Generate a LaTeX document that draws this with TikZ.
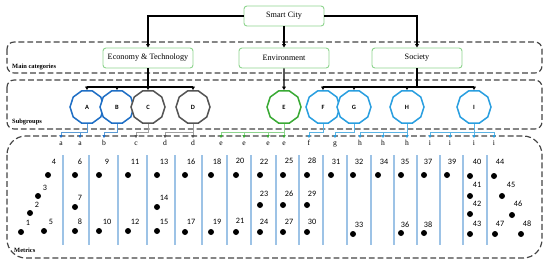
\documentclass[tikz,border=0pt]{standalone}
\usepackage{fontspec}
\setmainfont{Liberation Serif}
\newfontfamily\calfont{Carlito}
\usetikzlibrary{arrows.meta,shapes.geometric}
\definecolor{cblue}{HTML}{1F6FC5}
\definecolor{lblue}{HTML}{2A9FE0}
\definecolor{cgray}{HTML}{555555}
\definecolor{lgray}{HTML}{A0A0A0}
\definecolor{cgreen}{HTML}{3AAA35}
\definecolor{boxgreen}{HTML}{8ED48E}
\definecolor{vline}{HTML}{9DC3E6}
\definecolor{lnblue}{HTML}{5B9BD5}
\definecolor{lnlblue}{HTML}{5BB4E5}
\definecolor{dashc}{HTML}{444444}
\tikzset{
  catbox/.style={draw=boxgreen, line width=0.8pt, rounded corners=2.5pt, minimum width=2.7cm, minimum height=0.6cm, inner sep=1pt, font=\fontsize{7}{8}\selectfont, fill=white},
  grpbox/.style={draw=dashc, line width=1pt, dash pattern=on 5pt off 2.5pt},
  grplabel/.style={font=\bfseries\fontsize{5.5}{6}\selectfont, anchor=west, inner sep=0},
  sg/.style={regular polygon, regular polygon sides=10, minimum size=1.02cm, inner sep=0, line width=1.3pt, fill=white, font=\calfont\bfseries\fontsize{5.5}{6}\selectfont},
  lt/.style={font=\fontsize{6.5}{7}\selectfont, inner sep=0.3pt, anchor=north, text height=1.3ex, text depth=0pt},
  num/.style={font=\calfont\fontsize{7}{8}\selectfont, inner sep=0},
  mdot/.style={circle, fill=black, inner sep=0, minimum size=0.18cm},
  topar/.style={draw=black, line width=1.1pt, -{Triangle[length=3pt,width=3.2pt]}},
  subar/.style args={#1/#2}{line width=0.6pt, draw=#1, -{Triangle[length=2.5pt,width=2.6pt,color=#2]}},
}
\begin{document}
\begin{tikzpicture}[x=0.03cm,y=-0.03cm]
\useasboundingbox (0,0) rectangle (550,266);
% group boxes
\draw[grpbox, rounded corners=6pt] (7,42) rectangle (542,73);
\draw[grpbox, rounded corners=6pt] (7,80) rectangle (542,129);
\draw[grpbox, rounded corners=16pt] (7,136) rectangle (542,258);
\node[grplabel] (lmain) at (12,67) {Main categories};
\node[grplabel] (lsub) at (12,122) {Subgroups};
\node[grplabel] (lmet) at (14,250) {Metrics};
% top
\node[catbox, minimum width=2.4cm] (sc) at (284,16) {Smart City};
\node[catbox] (econ) at (148,58) {Economy \& Technology};
\node[catbox] (env) at (284,58) {Environment};
\node[catbox] (soc) at (417,58) {Society};
\draw[topar] (sc.west) -| (econ.north);
\draw[topar] (sc.south) -- (env.north);
\draw[topar] (sc.east) -| (soc.north);
% subgroups
\coordinate (bus) at (0,87);
\coordinate (lbus) at (0,132);
\node[sg, draw=cblue] (A) at (87,107) {A};
\node[sg, draw=cblue] (B) at (117,107) {B};
\node[sg, draw=cgray] (C) at (148,107) {C};
\node[sg, draw=cgray] (D) at (193,107) {D};
\node[sg, draw=cgreen] (E) at (284,107) {E};
\node[sg, draw=lblue] (F) at (323,107) {F};
\node[sg, draw=lblue] (G) at (354,107) {G};
\node[sg, draw=lblue] (H) at (407,107) {H};
\node[sg, draw=lblue] (I) at (474,107) {I};
\foreach \s in {A,B,C,D} \draw[topar] (econ.south) |- (\s.north |- bus) -- (\s.north);
\draw[topar] (env.south) -- (E.north);
\foreach \s in {F,G,H,I} \draw[topar] (soc.south) |- (\s.north |- bus) -- (\s.north);
% letters
\foreach \n/\x/\t in {a1/61/a,a2/80/a,b1/104/b,c1/136/c,d1/165/d,d2/193/d,e1/221/e,e2/244/e,e3/268/e,e4/284/e,f1/309/f,g1/335/g,h1/360/h,h2/383/h,h3/407/h,i1/430/i,i2/450/i,i3/474/i,i4/494/i}
  \node[lt] (\n) at (\x,138) {\t};
\foreach \s/\l in {A/a1,A/a2,B/b1} \draw[subar=lnblue/cblue] (\s.south) |- (\l.north |- lbus) -- (\l.north);
\foreach \s/\l in {C/c1,D/d1,D/d2} \draw[subar=lgray/cgray] (\s.south) |- (\l.north |- lbus) -- (\l.north);
\foreach \s/\l in {E/e1,E/e2,E/e3,E/e4} \draw[subar=boxgreen/cgreen] (\s.south) |- (\l.north |- lbus) -- (\l.north);
\foreach \s/\l in {F/f1,G/g1,H/h1,H/h2,H/h3,I/i1,I/i2,I/i3,I/i4} \draw[subar=lnlblue/lblue] (\s.south) |- (\l.north |- lbus) -- (\l.north);
% metric separators
\foreach \x in {63,89,118,147,175,202,227,251,276,299,323,347,371,394,417,440,463,487}
  \draw[vline, line width=1.2pt] (\x,155) -- (\x,245);
% metrics
\foreach \k/\dx/\dy/\nx/\ny in {1/21/232/28/223, 2/30/213/37/205, 3/38/196/45/188, 4/48/175/54/162, 5/44/231/51/222,
  6/75/175/80/162, 7/75/207/80/198, 8/75/231/80/222, 9/99/175/107/162, 10/99/231/107/222,
  11/128/175/135/162, 12/128/231/135/222, 13/157/175/164/162, 14/157/207/164/198, 15/157/231/164/222,
  16/185/175/191/162, 17/185/232/191/222, 18/211/175/217/162, 19/211/232/217/222, 20/236/175/240/161,
  21/236/232/240/221, 22/260/175/264/162, 23/260/205/264/194, 24/260/232/264/222, 25/283/175/289/161,
  26/283/205/289/194, 27/283/232/289/222, 28/307/175/312/161, 29/307/205/312/194, 30/307/232/312/222,
  31/331/175/336/162, 32/353/175/359/162, 33/353/234/359/225, 34/378/175/384/162, 35/401/175/405/162,
  36/401/233/405/225, 37/424/175/428/162, 38/424/233/428/225, 39/447/175/452/162, 40/470/176/477/162,
  41/470/196/477/185, 42/470/214/477/204, 43/470/234/477/224, 44/494/176/500/162, 45/502/196/511/185,
  46/512/215/518/204, 47/495/234/500/224, 48/521/234/527/224}
{
  \node[mdot] (m\k) at (\dx,\dy) {};
  \node[num] (n\k) at (\nx,\ny) {\k};
}
\end{tikzpicture}
\end{document}
